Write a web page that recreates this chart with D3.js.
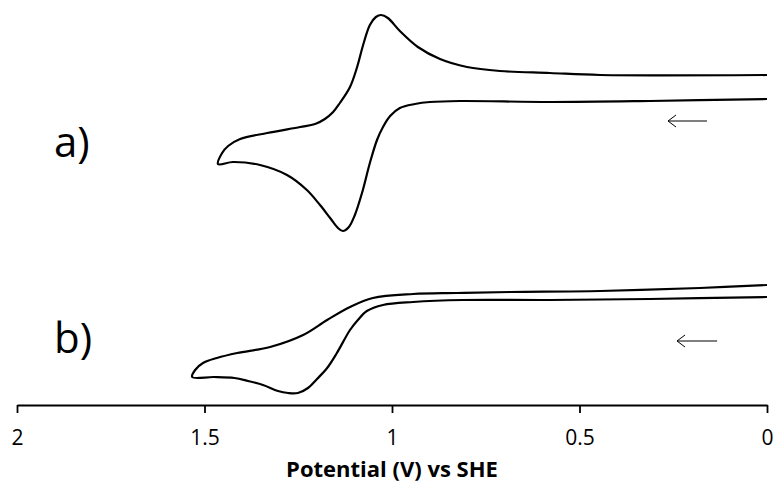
<!DOCTYPE html>
<html>
<head>
<meta charset="utf-8">
<script src="https://cdn.jsdelivr.net/npm/d3@7"></script>
<style>
  body { margin: 0; background: #fff; }
  svg { display: block; }
</style>
</head>
<body>
<svg id="chart" width="778" height="489"></svg>
<script>
// potential (V vs SHE) and current (arb. units), in scan order
const potentialA = [0.000, 0.312, 0.579, 0.819, 0.899, 0.939, 0.979, 1.005, 1.024, 1.040, 1.059, 1.080, 1.099, 1.115, 1.131, 1.144, 1.165, 1.192, 1.227, 1.280, 1.352, 1.424, 1.464,
                    1.453, 1.437, 1.405, 1.333, 1.245, 1.205, 1.179, 1.157, 1.139, 1.112, 1.093, 1.077, 1.059, 1.043, 1.029, 1.011, 0.979, 0.931, 0.872, 0.800, 0.712, 0.579, 0.445, 0.000];
const currentA   = [0.1, -0.1, -0.2, -0.1, -0.2, -0.4, -0.8, -1.6, -2.7, -4.0, -6.3, -9.3, -11.5, -12.7, -13.1, -12.8, -11.8, -10.5, -9.0, -7.5, -6.5, -6.2, -6.4,
                    -5.3, -4.6, -3.9, -3.3, -2.7, -2.4, -1.9, -1.2, -0.3, 1.3, 3.3, 5.5, 7.5, 8.3, 8.5, 8.2, 6.9, 5.3, 4.1, 3.3, 2.9, 2.7, 2.5, 2.5];

const potentialB = [0.000, 0.312, 0.579, 0.811, 0.944, 1.024, 1.067, 1.091, 1.112, 1.147, 1.173, 1.200, 1.224, 1.251, 1.277, 1.304, 1.344, 1.384, 1.420, 1.475, 1.533,
                    1.525, 1.504, 1.467, 1.413, 1.325, 1.237, 1.173, 1.112, 1.051, 0.944, 0.827, 0.685, 0.445, 0.179, 0.000];
const currentB   = [0.3, 0.1, 0.0, 0.0, -0.2, -0.5, -1.1, -2.0, -3.0, -5.3, -6.8, -7.9, -8.8, -9.3, -9.3, -9.1, -8.5, -8.1, -7.8, -7.7, -7.7,
                    -7.0, -6.3, -5.8, -5.3, -4.7, -3.5, -2.0, -0.7, 0.2, 0.6, 0.7, 0.8, 0.9, 1.2, 1.5];

const tickValues = [2, 1.5, 1, 0.5, 0];
const panelLabels = ["a)", "b)"];
// scan direction arrows: [head potential, tail potential, current]
const arrowA = [0.264, 0.16, -2.1];
const arrowB = [0.24, 0.133, -4.1];

const svg = d3.select("#chart");

const x = d3.scaleLinear().domain([2, 0]).range([17, 767]);
const yA = d3.scaleLinear().domain([0, 10]).range([100, 0]);
const yB = d3.scaleLinear().domain([0, 10]).range([300, 200]);

function drawCurve(E, I, y) {
    const pts = E.map((e, i) => [e, I[i]]);
    const line = d3.line()
        .x(d => x(d[0]))
        .y(d => y(d[1]))
        .curve(d3.curveCatmullRom.alpha(0.5));
    svg.append("path")
        .attr("d", line(pts))
        .attr("fill", "none")
        .attr("stroke", "#000")
        .attr("stroke-width", 2.2)
        .attr("stroke-linejoin", "round");
}

drawCurve(potentialA, currentA, yA);
drawCurve(potentialB, currentB, yB);

function drawArrow(a, y) {
    const xh = x(a[0]), xt = x(a[1]), yy = y(a[2]);
    svg.append("line")
        .attr("x1", xh).attr("x2", xt)
        .attr("y1", yy).attr("y2", yy)
        .attr("stroke", "#000").attr("stroke-width", 1);
    svg.append("path")
        .attr("d", `M${xh + 8},${yy - 6}L${xh},${yy}L${xh + 8},${yy + 6}`)
        .attr("fill", "none").attr("stroke", "#000").attr("stroke-width", 1);
}
drawArrow(arrowA, yA);
drawArrow(arrowB, yB);

svg.selectAll("text.panel")
    .data(panelLabels)
    .join("text")
    .attr("class", "panel")
    .attr("x", 54)
    .attr("y", (d, i) => i === 0 ? 157 : 353)
    .attr("font-family", "Open Sans, sans-serif")
    .attr("font-size", 42)
    .text(d => d);

const axis = svg.append("g")
    .attr("transform", "translate(0,405)")
    .call(d3.axisBottom(x)
        .tickValues(tickValues)
        .tickFormat(d => String(d))
        .tickSizeInner(8)
        .tickSizeOuter(0)
        .tickPadding(17));

axis.select(".domain").attr("stroke-width", 1.8);
axis.selectAll(".tick line").attr("stroke-width", 1.8);
axis.selectAll(".tick text")
    .attr("font-family", "Open Sans, sans-serif")
    .attr("font-size", 21)
    .attr("fill", "#000");

svg.append("text")
    .attr("x", 392)
    .attr("y", 477)
    .attr("text-anchor", "middle")
    .attr("font-family", "Open Sans, sans-serif")
    .attr("font-weight", "bold")
    .attr("font-size", 22)
    .text("Potential (V) vs SHE");
</script>
</body>
</html>
